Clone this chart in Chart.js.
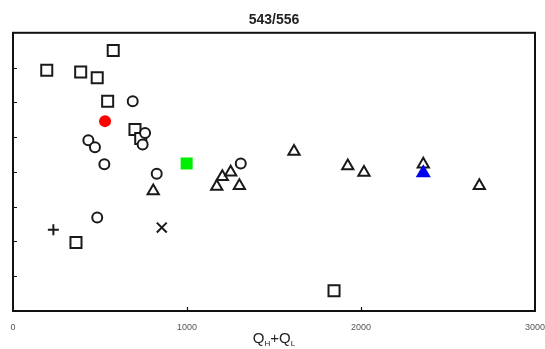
<!DOCTYPE html>
<html>
<head>
<meta charset="utf-8">
<script src="https://cdn.jsdelivr.net/npm/chart.js@4.4.0/dist/chart.umd.min.js"></script>
<style>
    html, body { margin: 0; padding: 0; background: #fff; }
    #wrap { width: 545px; height: 349px; }
</style>
</head>
<body>
<div id="wrap"><canvas id="chart" width="545" height="349"></canvas></div>
<script>
// Veriler
const chartTitle = '543/556';
const xTicks = [0, 1000, 2000, 3000];
const yTicks = [1, 2, 3, 4, 5, 6, 7];

const squareX = [194, 576, 389, 484, 544, 701, 734, 362, 1845];
const squareY = [6.92, 7.49, 6.87, 6.71, 6.03, 5.22, 4.96, 1.97, 0.58];

const circleX = [688, 759, 745, 433, 471, 525, 826, 1309, 484];
const circleY = [6.03, 5.12, 4.79, 4.91, 4.71, 4.22, 3.95, 4.24, 2.69];

const triangleX = [806, 1171, 1203, 1251, 1301, 1615, 1924, 2017, 2358, 2680];
const triangleY = [3.45, 3.58, 3.86, 3.99, 3.60, 4.59, 4.17, 3.98, 4.22, 3.60];

const plusX = [232];
const plusY = [2.34];
const crossX = [855];
const crossY = [2.40];

const redX = [529];
const redY = [5.46];
const greenX = [998];
const greenY = [4.24];
const blueX = [2358];
const blueY = [3.97];

function toPoints(xs, ys) {
    return xs.map((x, i) => ({ x: x, y: ys[i] }));
}

function openSet(xs, ys, style, radius) {
    return {
        data: toPoints(xs, ys),
        pointStyle: style,
        pointRadius: radius,
        borderColor: '#1a1a1a',
        backgroundColor: '#ffffff',
        borderWidth: 2
    };
}

function filledSet(xs, ys, style, radius, color) {
    return {
        data: toPoints(xs, ys),
        pointStyle: style,
        pointRadius: radius,
        borderColor: color,
        backgroundColor: color,
        borderWidth: 0
    };
}

// Çerçeve, içe dönük çentikler ve eksen başlığı
const framePlugin = {
    id: 'frame',
    afterDraw(chart) {
        const ctx = chart.ctx;
        const a = chart.chartArea;
        const xs = chart.scales.x;
        const ys = chart.scales.y;
        ctx.save();
        ctx.strokeStyle = '#111';
        ctx.lineWidth = 2;
        ctx.strokeRect(a.left, a.top, a.right - a.left, a.bottom - a.top);

        ctx.lineWidth = 1.2;
        ctx.beginPath();
        yTicks.forEach(v => {
            const py = Math.round(ys.getPixelForValue(v)) + 0.5;
            ctx.moveTo(a.left, py);
            ctx.lineTo(a.left + 4, py);
        });
        xTicks.slice(1, -1).forEach(v => {
            const px = Math.round(xs.getPixelForValue(v)) + 0.5;
            ctx.moveTo(px, a.bottom);
            ctx.lineTo(px, a.bottom - 4);
        });
        ctx.stroke();

        // Q_H + Q_L
        const big = '15px "Liberation Sans", Arial, sans-serif';
        const small = '8px "Liberation Sans", Arial, sans-serif';
        const parts = [['Q', big, 0], ['H', small, 3], ['+', big, 0], ['Q', big, 0], ['L', small, 3]];
        let total = 0;
        parts.forEach(p => { ctx.font = p[1]; total += ctx.measureText(p[0]).width; });
        let x = (a.left + a.right) / 2 - total / 2;
        const base = 343;
        ctx.fillStyle = '#222';
        ctx.textBaseline = 'alphabetic';
        ctx.textAlign = 'left';
        parts.forEach(p => {
            ctx.font = p[1];
            ctx.fillText(p[0], x, base + p[2]);
            x += ctx.measureText(p[0]).width;
        });
        ctx.restore();
    }
};

new Chart(document.getElementById('chart'), {
    type: 'scatter',
    data: {
        // son veri seti en üstte çiziliyor
        datasets: [
            filledSet(blueX, blueY, 'triangle', 8.7, '#0000ee'),
            filledSet(greenX, greenY, 'rect', 8.5, '#00ee00'),
            filledSet(redX, redY, 'circle', 6, '#ff0000'),
            openSet(crossX, crossY, 'crossRot', 7),
            openSet(plusX, plusY, 'cross', 5.5),
            openSet(circleX, circleY, 'circle', 5),
            openSet(squareX, squareY, 'rect', 7.8),
            openSet(triangleX, triangleY, 'triangle', 6.5)
        ]
    },
    options: {
        responsive: false,
        animation: false,
        layout: { padding: { left: 13, right: 10, top: 0, bottom: 0 } },
        plugins: {
            legend: { display: false },
            tooltip: { enabled: false },
            title: {
                display: true,
                text: chartTitle,
                color: '#222',
                font: { family: '"Liberation Sans", Arial, sans-serif', size: 14, weight: 'bold' },
                padding: { top: 12, bottom: 4 }
            }
        },
        scales: {
            x: {
                type: 'linear',
                min: 0,
                max: 3000,
                afterBuildTicks: s => { s.ticks = xTicks.map(v => ({ value: v })); },
                afterFit: s => {
                    s.height = 38;
                    s.paddingLeft = 0;
                    s.paddingRight = 0;
                },
                grid: { display: false, drawTicks: false },
                border: { display: false },
                ticks: {
                    color: '#555',
                    padding: 11,
                    maxRotation: 0,
                    callback: v => String(v),
                    font: { family: '"Liberation Sans", Arial, sans-serif', size: 9 }
                }
            },
            y: {
                type: 'linear',
                min: 0,
                max: 8,
                display: false
            }
        }
    },
    plugins: [framePlugin]
});
</script>
</body>
</html>
